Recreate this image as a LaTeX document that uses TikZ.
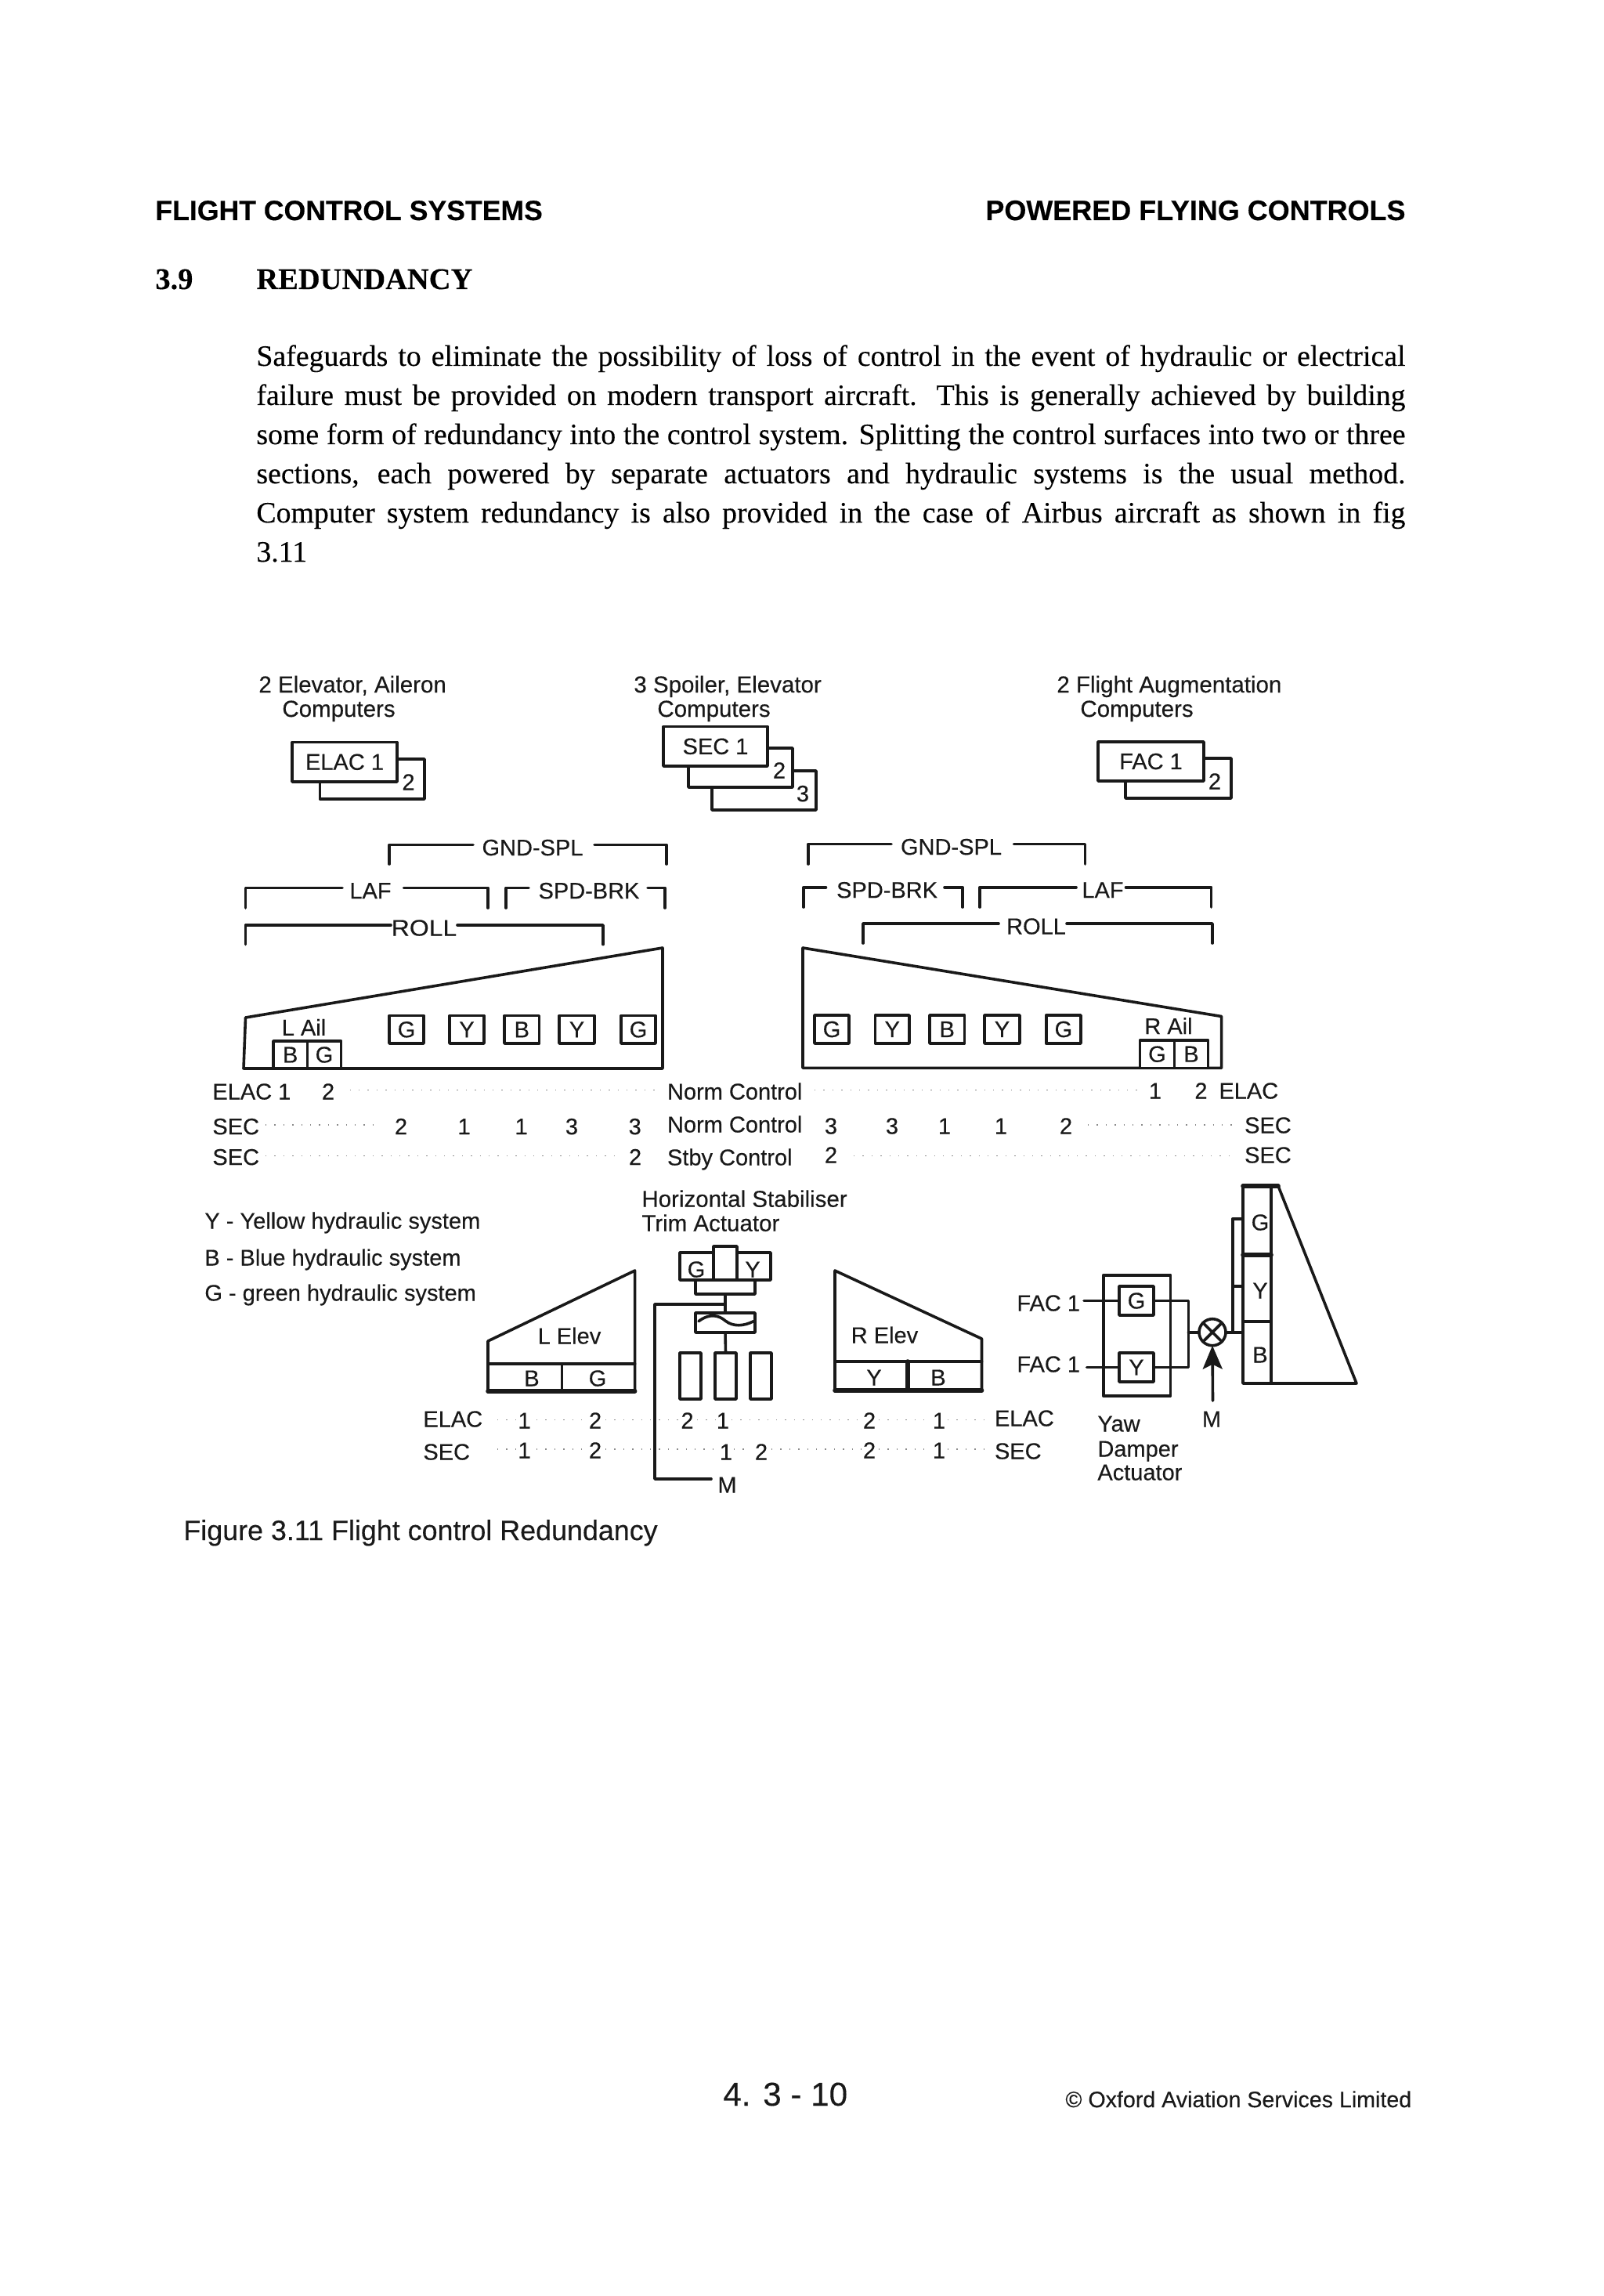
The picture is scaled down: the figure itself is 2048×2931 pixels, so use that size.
\documentclass[tikz,border=0pt]{standalone}
\usepackage{fontspec}
\setmainfont{Liberation Sans}[RawFeature={embolden=0.25}]
\newfontfamily\serifbody{Liberation Serif}[RawFeature={embolden=0.2}]
\usetikzlibrary{arrows.meta}
\tikzset{
  ln/.style={line width=1.8pt,line cap=round,line join=round,draw=black!90},
  thickln/.style={line width=2.8pt,line cap=round,line join=round,draw=black!90},
  dots/.style={line width=.6pt,draw=black!45,dash pattern=on .7pt off 5pt},
  lab/.style={anchor=base,yshift=-5.25pt,inner sep=0pt,text=black!90,font=\fontsize{14.5}{14.5}\selectfont},
  labl/.style={lab,anchor=base west},
  ttl/.style={anchor=base west,inner sep=0pt,text=black!90,font=\fontsize{14.75}{14.75}\selectfont},
  head/.style={anchor=base west,inner sep=0pt,text=black,font=\fontsize{17.8}{18}\selectfont\bfseries},
  bodyline/.style={anchor=base west,inner sep=0pt,text=black,font=\fontsize{18.9}{25}\serifbody},
  boxn/.style={draw,ln,fill=white,inner sep=0pt,outer sep=0pt,text=black!90,font=\fontsize{14.5}{14.5}\selectfont},
}
\newcommand\lab[4]{\node[lab] (#1) at (#2,#3) {#4};}
\newcommand\labl[4]{\node[labl] (#1) at (#2,#3) {#4};}
\newcommand\bx[6]{\node[boxn,minimum width={(#4-#2)*0.5pt},minimum height={(#5-#3)*0.5pt}] (#1) at ({(#2+#4)/2},{(#3+#5)/2}) {#6};}
% bracket: name, left, right, top, bottom, gap left, gap right, text x, text
\newcommand\brk[9]{%
  \coordinate (#1a) at (#2,#5); \coordinate (#1b) at (#2,#4); \coordinate (#1c) at (#6,#4);
  \coordinate (#1d) at (#7,#4); \coordinate (#1e) at (#3,#4); \coordinate (#1f) at (#3,#5);
  \draw[ln] (#1a) -- (#1b) -- (#1c);
  \draw[ln] (#1d) -- (#1e) -- (#1f);
  \node[lab] (#1t) at (#8,#4+3) {#9};}
\begin{document}
\begin{tikzpicture}[x=0.5pt,y=-0.5pt]
\useasboundingbox[fill=white] (0,0) rectangle (2048,2931);
% page text
\node[head] (h1) at (198,281) {FLIGHT CONTROL SYSTEMS};
\node[head,font=\fontsize{17.98}{18}\selectfont\bfseries] (h2) at (1258,281) {POWERED FLYING CONTROLS};
\node[anchor=base west,inner sep=0pt,font=\fontsize{19.2}{20}\serifbody\bfseries] (sn) at (198,369) {3.9};
\node[anchor=base west,inner sep=0pt,font=\fontsize{19.2}{20}\serifbody\bfseries] (st) at (327,369) {\hbox to 138pt{R\hfil E\hfil D\hfil U\hfil N\hfil D\hfil A\hfil N\hfil C\hfil Y}};
\node[bodyline] (b1) at (327,467) {\hbox to 733.5pt{Safeguards to eliminate the possibility of loss of control in the event of hydraulic or electrical}};
\node[bodyline] (b2) at (327,517) {\hbox to 733.5pt{failure must be provided on modern transport aircraft. This is generally achieved by building}};
\node[bodyline] (b3) at (327,567) {\hbox to 733.5pt{some form of redundancy into the control system. Splitting the control surfaces into two or three}};
\node[bodyline] (b4) at (327,617) {\hbox to 733.5pt{sections, each powered by separate actuators and hydraulic systems is the usual method.}};
\node[bodyline] (b5) at (327,667) {\hbox to 733.5pt{Computer system redundancy is also provided in the case of Airbus aircraft as shown in fig}};
\node[bodyline] (b6) at (327,717) {3.11};
% computers
\node[ttl] (t1a) at (330,884) {2 Elevator, Aileron};
\node[ttl] (t1b) at (360,915) {Computers};
\node[ttl] (t2a) at (809,884) {3 Spoiler, Elevator};
\node[ttl] (t2b) at (839,915) {Computers};
\node[ttl] (t3a) at (1349,884) {2 Flight Augmentation};
\node[ttl] (t3b) at (1379,915) {Computers};
\bx{el2}{408.5}{969}{542}{1020}{}
\bx{el1}{373}{947.5}{507}{998}{ELAC 1}
\lab{el2t}{521.5}{998}{2}
\bx{se3}{909}{984}{1042}{1034}{}
\bx{se2}{879}{955}{1012}{1005}{}
\bx{se1}{847}{927.6}{980}{978}{SEC 1}
\lab{se2t}{995}{983}{2}
\lab{se3t}{1025}{1012.6}{3}
\bx{fa2}{1437}{968}{1572}{1019}{}
\bx{fa1}{1402}{947}{1537}{997}{FAC 1}
\lab{fa2t}{1551}{997}{2}
% brackets left
\brk{bA}{497}{851}{1078.5}{1103}{604}{759}{680}{GND-SPL}
\brk{bB}{313.5}{623}{1133.6}{1159}{437}{515.5}{473}{LAF}
\brk{bC}{646}{849}{1133.6}{1159}{675}{827}{752}{SPD-BRK}
\brk{bD}{313.5}{770}{1181}{1205.6}{499}{584}{541.5}{\scalebox{1.1}[1]{ROLL}}
% brackets right
\brk{bE}{1032}{1385.6}{1077.6}{1103}{1138}{1294.5}{1214.5}{GND-SPL}
\brk{bF}{1026}{1229}{1132.7}{1158}{1054.5}{1206}{1132.6}{SPD-BRK}
\brk{bG}{1251}{1546.5}{1132.7}{1158}{1374}{1437.5}{1408}{LAF}
\brk{bH}{1102}{1548}{1179}{1204}{1275}{1362}{1323}{ROLL}
% wings
\draw[ln] (313.5,1299) -- (846,1210) -- (846,1364) -- (311,1364) -- cycle;
\draw[ln] (1025,1210) -- (1559.6,1297.5) -- (1559.6,1363.4) -- (1025,1363.4) -- cycle;
\lab{lail}{388}{1311.4}{L Ail}
\bx{laB}{349}{1329}{392.4}{1364}{B}
\bx{laG}{392.4}{1329}{435.6}{1364}{G}
\bx{s1}{497}{1296.6}{541}{1332}{G}
\bx{s2}{574}{1296.6}{618}{1332}{Y}
\bx{s3}{644}{1296.6}{688.6}{1332}{B}
\bx{s4}{714}{1296.6}{759}{1332}{Y}
\bx{s5}{793}{1296.6}{837}{1332}{G}
\lab{rail}{1492}{1309.6}{R Ail}
\bx{raG}{1455.4}{1328}{1499.5}{1363.4}{G}
\bx{raB}{1499.5}{1328}{1542.6}{1363.4}{B}
\bx{r1}{1040}{1296}{1084}{1332}{G}
\bx{r2}{1117.5}{1296}{1161}{1332}{Y}
\bx{r3}{1187}{1296}{1231.5}{1332}{B}
\bx{r4}{1257}{1296}{1302}{1332}{Y}
\bx{r5}{1335.7}{1296}{1380}{1332}{G}
% dotted rows
\foreach \xa/\xb/\yy in {446.6/841/1391.6,1040/1457/1391.6,339/479/1436,1389/1573/1436,339/786/1475.7,1090/1573/1475.7,
 635/662/1812.7,685/750/1812.7,773/866/1812.7,890/915/1812.7,934/1100/1812.7,1122/1190/1812.7,1210/1263/1812.7,
 635/662/1850,685/750/1850,773/917/1850,937/958/1850,985/1100/1850,1122/1190/1850,1210/1263/1850}
  \draw[dots] (\xa,\yy) -- (\xb,\yy);
% row labels
\labl{ra1}{271}{1393}{ELAC 1}
\lab{ra2}{419}{1393}{2}
\labl{ra3}{851.6}{1393}{Norm Control}
\lab{ra4}{1475}{1392}{1}
\lab{ra5}{1533.4}{1392}{2}
\labl{ra6}{1556}{1392}{ELAC}
\labl{rb1}{271}{1437.6}{SEC}
\lab{rb2}{512}{1437.6}{2}
\lab{rb3}{592.6}{1437.6}{1}
\lab{rb4}{665.6}{1437.6}{1}
\lab{rb5}{730}{1437.6}{3}
\lab{rb6}{810.7}{1437.6}{3}
\labl{rb7}{851.6}{1435}{Norm Control}
\lab{rb8}{1061}{1437}{3}
\lab{rb9}{1139}{1437}{3}
\lab{rb10}{1206}{1437}{1}
\lab{rb11}{1278}{1437}{1}
\lab{rb12}{1361}{1437}{2}
\labl{rb13}{1588.7}{1436}{SEC}
\labl{rc1}{271}{1476.6}{SEC}
\lab{rc2}{811}{1476.6}{2}
\labl{rc3}{851.6}{1477}{Stby Control}
\lab{rc4}{1061}{1474}{2}
\labl{rc5}{1588.7}{1474}{SEC}
% legend
\labl{lg1}{261}{1558}{Y - Yellow hydraulic system}
\labl{lg2}{261}{1605}{B - Blue hydraulic system}
\labl{lg3}{261}{1650}{G - green hydraulic system}
% stabiliser
\node[ttl] (hs1) at (819,1540.7) {Horizontal Stabiliser};
\node[ttl] (hs2) at (819,1571.7) {Trim Actuator};
\bx{tGY}{868}{1599}{984}{1634}{}
\bx{tC}{911}{1591}{941}{1634}{}
\lab{tG}{889}{1620}{G}
\lab{tY}{961}{1620}{Y}
\bx{tL}{888}{1634}{964}{1652}{}
\bx{tW}{888}{1676}{964}{1701}{}
\draw[ln] (892,1686.7) .. controls (906,1676) and (918,1679) .. (926,1686) .. controls (936,1694) and (950,1693) .. (962,1686.7);
\bx{p1}{868}{1727}{895}{1786}{}
\bx{p2}{913}{1727}{940}{1786}{}
\bx{p3}{958}{1727}{985}{1786}{}
\draw[ln] (tL.south) -- (tW.north);
\draw[ln] (tW.south) -- (p2.north);
\coordinate (mj) at (926,1665);
\coordinate (mc1) at (836,1665);
\coordinate (mc2) at (836,1888);
\coordinate (mc3) at (908,1888);
\draw[ln] (mj) -- (mc1) -- (mc2) -- (mc3);
\lab{mL}{928.5}{1895}{M}
% L Elev
\draw[ln] (623,1712) -- (810.6,1622) -- (810.6,1776) -- (623,1776) -- cycle;
\draw[ln] (623,1741) -- (810.6,1741);
\draw[ln] (717.6,1741) -- (717.6,1776);
\draw[thickln] (623,1776) -- (810.6,1776);
\lab{lel}{727}{1705}{L Elev}
\lab{leB}{679}{1759}{B}
\lab{leG}{763}{1759}{G}
% R Elev
\draw[ln] (1066,1622) -- (1253.5,1709) -- (1253.5,1775) -- (1066,1775) -- cycle;
\draw[ln] (1066,1738) -- (1253.5,1738);
\draw[thickln] (1159,1738) -- (1159,1775);
\draw[thickln] (1066,1775) -- (1253.5,1775);
\lab{rel}{1129.5}{1704}{R Elev}
\lab{reY}{1116}{1758}{Y}
\lab{reB}{1198}{1758}{B}
% bottom rows
\labl{ea1}{540}{1811}{ELAC}
\lab{ea2}{669.6}{1813}{1}
\lab{ea3}{760}{1813}{2}
\lab{ea4}{877.5}{1813}{2}
\lab{ea5}{923}{1813}{1}
\lab{ea6}{1110}{1813}{2}
\lab{ea7}{1199}{1813}{1}
\labl{ea8}{1269.6}{1810}{ELAC}
\labl{eb1}{540}{1853}{SEC}
\lab{eb2}{669.6}{1851}{1}
\lab{eb3}{760}{1851}{2}
\lab{eb4}{927}{1853}{1}
\lab{eb5}{972}{1853}{2}
\lab{eb6}{1110}{1851}{2}
\lab{eb7}{1199}{1851}{1}
\labl{eb8}{1269.6}{1852}{SEC}
% yaw damper
\draw[ln] (1408.7,1627.7) rectangle (1494.5,1782);
\labl{f1}{1298}{1663}{FAC 1}
\labl{f2}{1298}{1741}{FAC 1}
\bx{yG}{1429}{1642}{1473}{1679}{G}
\bx{yY}{1429}{1727}{1473}{1764}{Y}
\coordinate (jn) at (1517.5,1700.7);
\coordinate (f1e) at (1384,1660.5);
\coordinate (f2e) at (1387.6,1745.5);
\draw[ln] (f1e) -- (yG.west);
\draw[ln] (f2e) -- (yY.west);
\draw[ln] (yG.east) -| (jn) |- (yY.east);
\node[draw,ln,circle,fill=white,minimum size=17pt,inner sep=0pt,outer sep=0pt] (xc) at (1548,1700.7) {};
\draw[ln] (xc.north west) -- (xc.south east);
\draw[ln] (xc.north east) -- (xc.south west);
\draw[ln] (jn) -- (xc.west);
\coordinate (ms) at (1548.5,1788);
\draw[ln,-{Stealth[length=15pt,width=12.5pt,inset=3pt]}] (ms) -- (xc.south);
\lab{mR}{1547}{1811}{M}
\labl{yd1}{1401}{1817}{Yaw}
\labl{yd2}{1401}{1849}{Damper}
\labl{yd3}{1401}{1879}{Actuator}
% rudder
\coordinate (ra) at (1632,1514);
\coordinate (rb) at (1732,1766);
\coordinate (rc) at (1623,1766);
\draw[ln] (ra) -- (rb) -- (rc);
\bx{ruG}{1587}{1514}{1623}{1601.7}{}
\bx{ruY}{1587}{1601.7}{1623}{1687}{}
\bx{ruB}{1587}{1687}{1623}{1766}{}
\draw[thickln] (1587,1514) -- (ra);
\draw[thickln] (1587,1601.7) -- (1623,1601.7);
\lab{ruGt}{1609}{1560}{G}
\lab{ruYt}{1609}{1647}{Y}
\lab{ruBt}{1609}{1729}{B}
\coordinate (pj) at (1574,1700.7);
\coordinate (pt) at (1574,1555.7);
\coordinate (pm) at (1574,1641.7);
\draw[ln] (xc.east) -- (pj -| ruB.west);
\draw[ln] (pj) -- (pt) -- (pt -| ruG.west);
\draw[ln] (pm) -- (pm -| ruY.west);
% caption and footer
\node[anchor=base west,inner sep=0pt,text=black!90,font=\fontsize{17.93}{18}\selectfont] (cap) at (234,1966) {Figure 3.11 Flight control Redundancy};
\node[anchor=base west,inner sep=0pt,text=black!90,font=\fontsize{21.1}{22}\selectfont] (pg) at (923,2688) {4. 3 - 10};
\node[anchor=base west,inner sep=0pt,text=black!90,font=\fontsize{14.3}{15}\selectfont] (cr) at (1360,2690) {© Oxford Aviation Services Limited};
\end{tikzpicture}
\end{document}
